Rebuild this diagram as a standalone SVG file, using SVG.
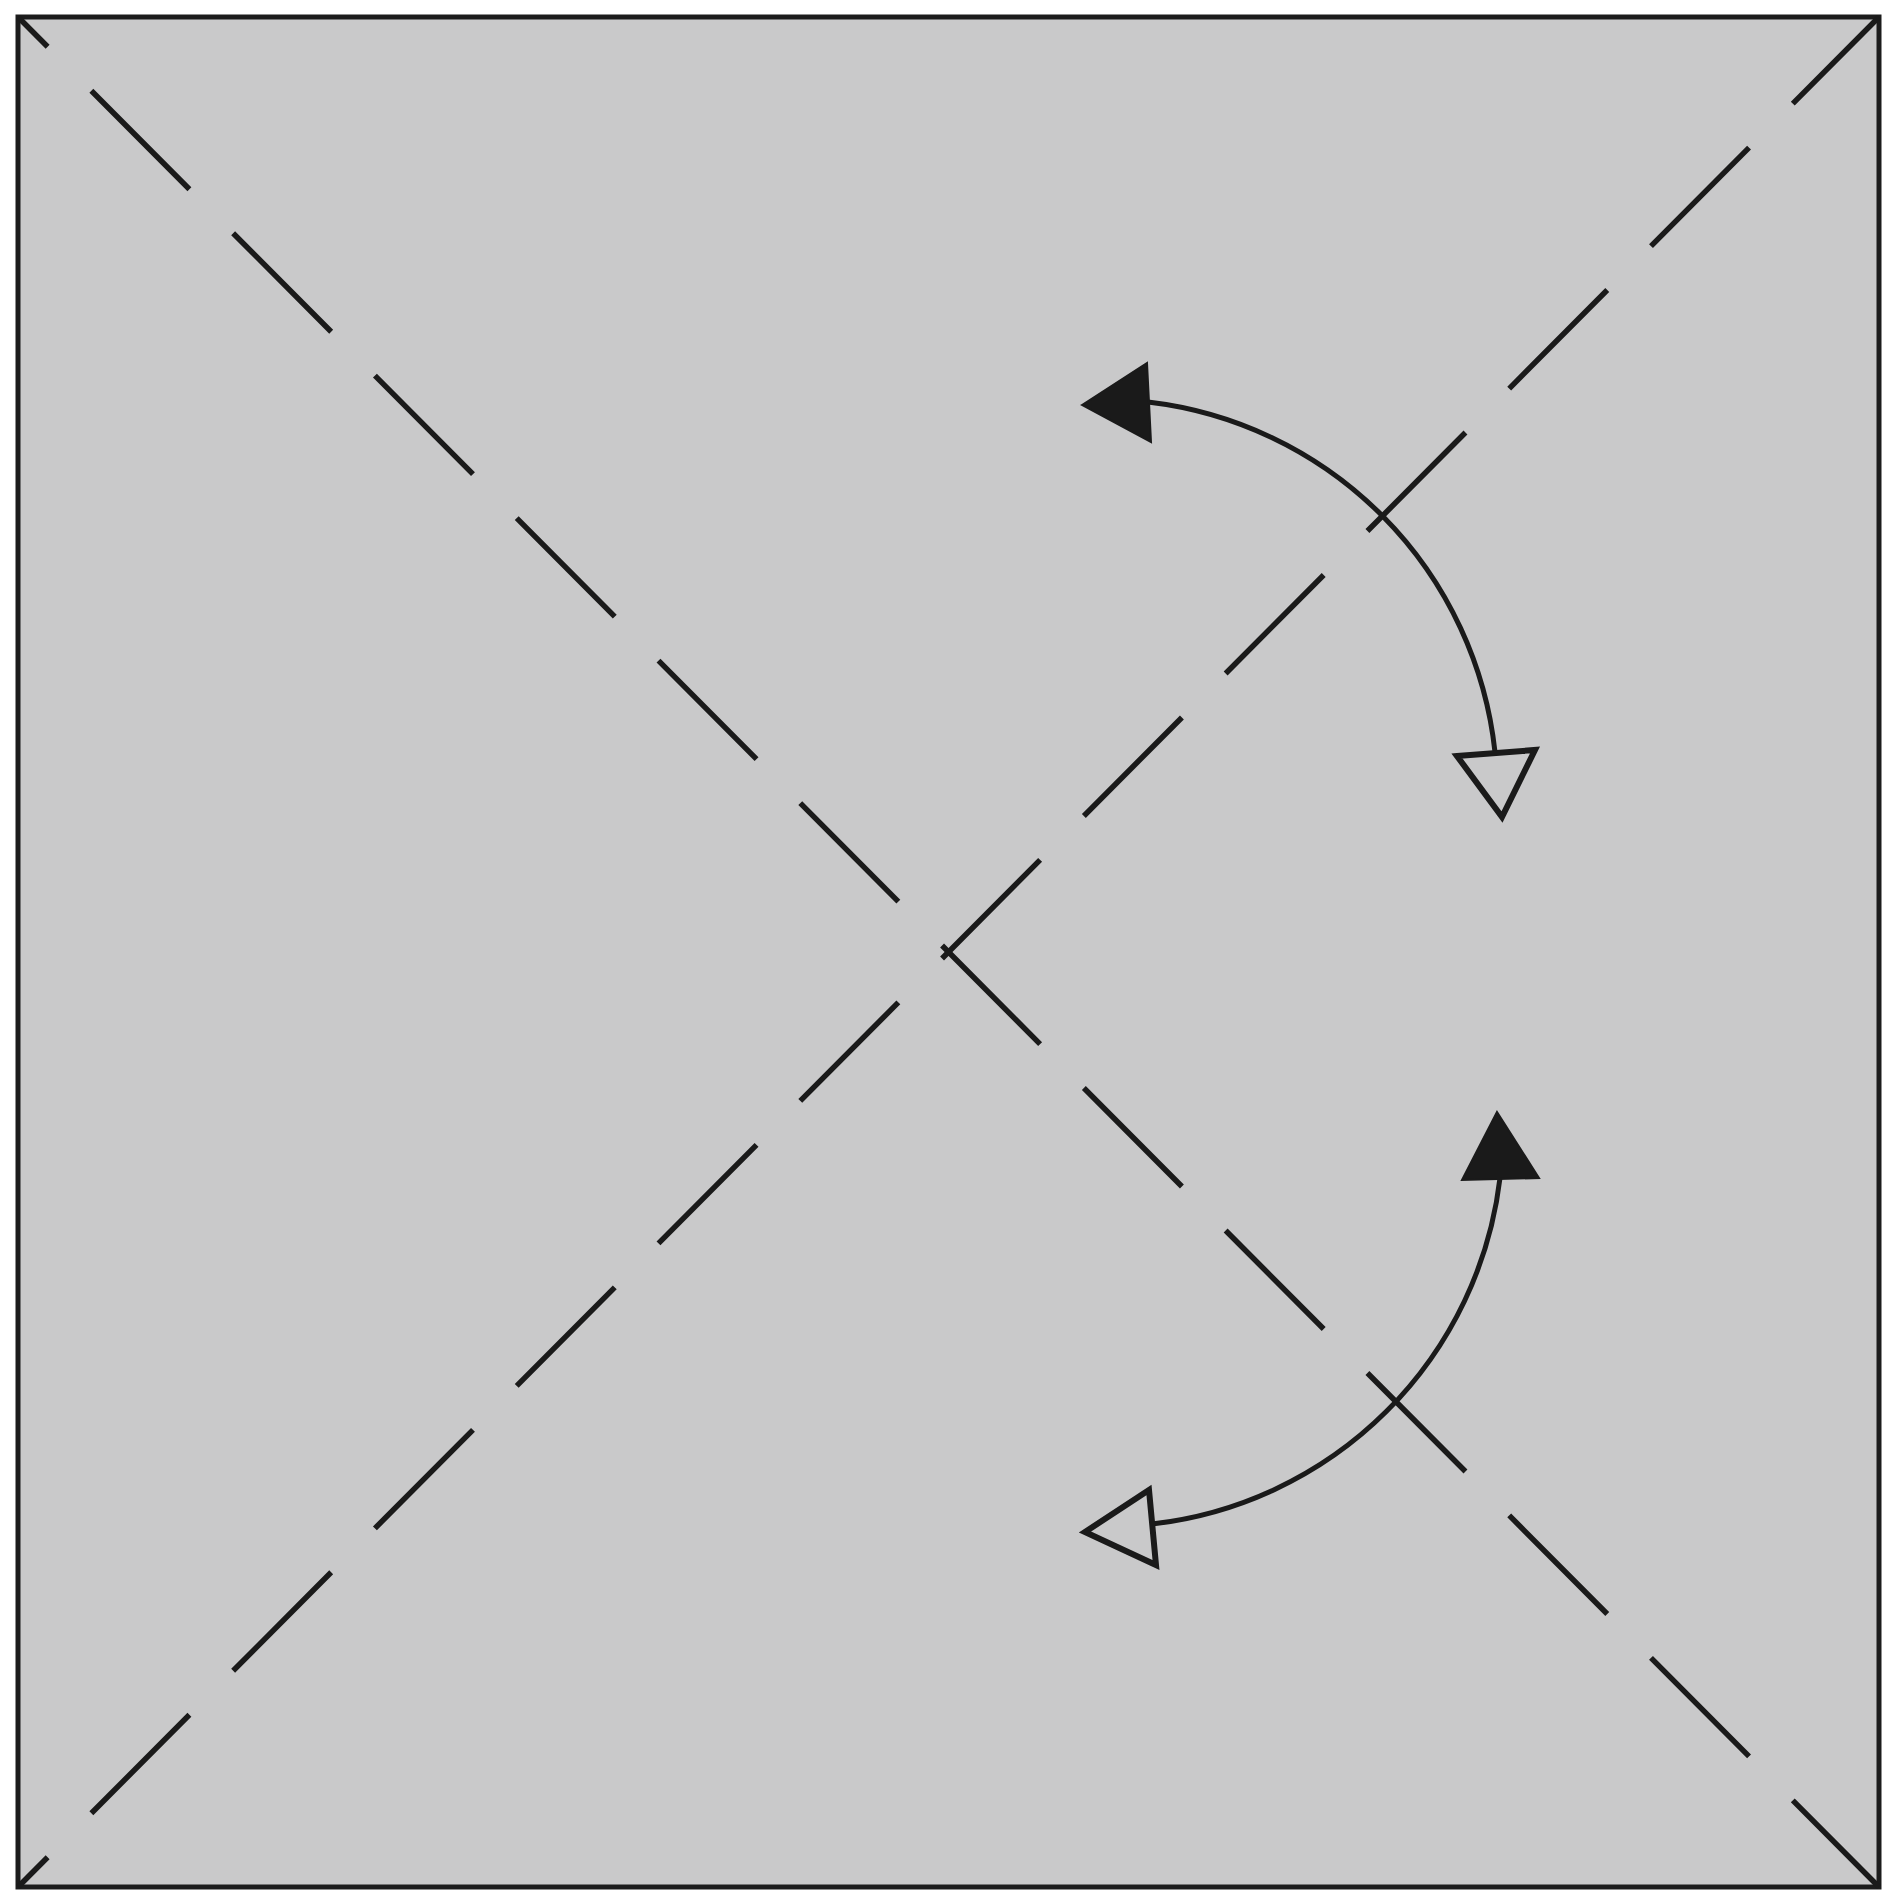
<svg xmlns="http://www.w3.org/2000/svg" width="1882" height="1900" viewBox="0 0 1882 1900">
  <style>
    .paper { fill: #c9c9ca; stroke: #1c1c1c; stroke-width: 5; }
    .valley { stroke: #1a1a1a; stroke-width: 5.5; fill: none; stroke-dasharray: 139 62; stroke-dashoffset: 97; stroke-linecap: butt; }
    .arc { stroke: #1a1a1a; stroke-width: 5; fill: none; }
    .head-fill { fill: #1a1a1a; stroke: #1a1a1a; stroke-width: 2; stroke-linejoin: miter; }
    .head-open { fill: #c9c9ca; stroke: #1a1a1a; stroke-width: 6; stroke-linejoin: miter; }
  </style>
  <rect width="1882" height="1900" fill="#ffffff"/>
  <g id="paper">
    <rect class="paper" x="18" y="17" width="1861" height="1870"/>
  </g>
  <g id="creases">
    <line class="valley" x1="18" y1="17" x2="1879" y2="1887"/>
    <line class="valley" x1="18" y1="1887" x2="1879" y2="17"/>
  </g>
  <g id="connectors">
    <g id="arrow-upper">
      <path class="arc" d="M1148,402 A395,395 0 0 1 1495,752"/>
      <polygon class="head-fill" points="1082,405 1147,363 1151,442"/>
      <polygon class="head-open" points="1457,756 1535,750 1502,817"/>
    </g>
    <g id="arrow-lower">
      <path class="arc" d="M1500,1178 A395,395 0 0 1 1152,1524"/>
      <polygon class="head-fill" points="1497,1112 1462,1180 1539,1178"/>
      <polygon class="head-open" points="1085,1532 1149,1490 1156,1565"/>
    </g>
  </g>
</svg>
